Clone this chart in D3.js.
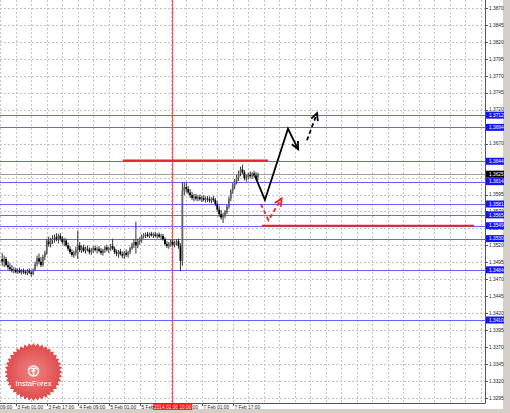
<!DOCTYPE html>
<html>
<head>
<meta charset="utf-8">
<script src="https://cdn.jsdelivr.net/npm/d3@7"></script>
<style>
html, body { margin: 0; padding: 0; background: #fff; }
svg { display: block; font-family: "Liberation Sans", Arial, sans-serif; }
</style>
</head>
<body>
<div id="chart"></div>
<script>
// EURUSD H1, first bar time
var startTime = "2014-02-02 18:00";

var opens = [
	1.3500,1.3496,1.3500,1.3491,1.3488,1.3485,1.3483,1.3484,1.3481,1.3483,
	1.3480,1.3482,1.3481,1.3479,1.3482,1.3480,1.3478,1.3484,1.3493,1.3501,
	1.3496,1.3491,1.3503,1.3509,1.3526,1.3522,1.3528,1.3530,1.3532,1.3529,
	1.3534,1.3530,1.3525,1.3527,1.3520,1.3515,1.3510,1.3506,1.3509,1.3514,
	1.3520,1.3513,1.3517,1.3512,1.3515,1.3514,1.3510,1.3513,1.3516,1.3513,
	1.3515,1.3512,1.3509,1.3513,1.3517,1.3514,1.3516,1.3519,1.3515,1.3510,
	1.3508,1.3511,1.3507,1.3505,1.3509,1.3506,1.3510,1.3516,1.3521,1.3525,
	1.3520,1.3526,1.3529,1.3533,1.3535,1.3536,1.3534,1.3537,1.3535,1.3536,
	1.3534,1.3536,1.3533,1.3534,1.3529,1.3522,1.3519,1.3522,1.3525,1.3521,
	1.3524,1.3526,1.3519,1.3497,1.3600,1.3606,1.3603,1.3598,1.3594,1.3590,
	1.3592,1.3589,1.3591,1.3588,1.3590,1.3587,1.3589,1.3588,1.3586,1.3589,
	1.3587,1.3581,1.3573,1.3566,1.3561,1.3564,1.3569,1.3577,1.3589,1.3600,
	1.3608,1.3614,1.3620,1.3626,1.3632,1.3628,1.3619,1.3621,1.3624,1.3622,
	1.3626,1.3623,1.3620
];
var highs = [
	1.3509,1.3505,1.3503,1.3497,1.3494,1.3491,1.3488,1.3487,1.3486,1.3487,
	1.3485,1.3486,1.3484,1.3485,1.3486,1.3483,1.3486,1.3496,1.3505,1.3508,
	1.3503,1.3506,1.3512,1.3530,1.3533,1.3531,1.3535,1.3536,1.3538,1.3537,
	1.3538,1.3534,1.3531,1.3530,1.3524,1.3519,1.3514,1.3512,1.3518,1.3542,
	1.3525,1.3520,1.3521,1.3518,1.3520,1.3517,1.3516,1.3519,1.3520,1.3518,
	1.3519,1.3516,1.3515,1.3519,1.3521,1.3518,1.3522,1.3530,1.3518,1.3514,
	1.3513,1.3515,1.3511,1.3512,1.3514,1.3512,1.3518,1.3524,1.3529,1.3555,
	1.3530,1.3532,1.3536,1.3538,1.3539,1.3540,1.3539,1.3540,1.3539,1.3540,
	1.3538,1.3539,1.3537,1.3537,1.3532,1.3526,1.3525,1.3528,1.3529,1.3527,
	1.3529,1.3530,1.3523,1.3613,1.3612,1.3613,1.3608,1.3603,1.3599,1.3596,
	1.3596,1.3594,1.3595,1.3593,1.3594,1.3592,1.3593,1.3592,1.3591,1.3593,
	1.3590,1.3585,1.3578,1.3572,1.3568,1.3572,1.3580,1.3592,1.3603,1.3612,
	1.3618,1.3624,1.3630,1.3636,1.3639,1.3631,1.3624,1.3627,1.3629,1.3628,
	1.3630,1.3628,1.3627
];
var lows = [
	1.3490,1.3488,1.3489,1.3484,1.3482,1.3480,1.3479,1.3479,1.3478,1.3479,
	1.3477,1.3478,1.3477,1.3476,1.3478,1.3474,1.3476,1.3482,1.3489,1.3492,
	1.3488,1.3489,1.3498,1.3506,1.3518,1.3517,1.3522,1.3524,1.3526,1.3523,
	1.3527,1.3522,1.3519,1.3518,1.3512,1.3507,1.3503,1.3502,1.3505,1.3500,
	1.3510,1.3509,1.3510,1.3508,1.3511,1.3507,1.3506,1.3509,1.3511,1.3508,
	1.3510,1.3506,1.3505,1.3509,1.3511,1.3509,1.3512,1.3513,1.3507,1.3504,
	1.3502,1.3505,1.3501,1.3500,1.3503,1.3502,1.3507,1.3513,1.3516,1.3508,
	1.3516,1.3521,1.3524,1.3530,1.3531,1.3532,1.3531,1.3533,1.3531,1.3532,
	1.3530,1.3531,1.3529,1.3527,1.3520,1.3516,1.3515,1.3518,1.3519,1.3517,
	1.3520,1.3515,1.3482,1.3490,1.3594,1.3598,1.3595,1.3590,1.3587,1.3585,
	1.3586,1.3585,1.3586,1.3584,1.3585,1.3583,1.3584,1.3583,1.3582,1.3584,
	1.3578,1.3570,1.3562,1.3558,1.3553,1.3560,1.3566,1.3574,1.3585,1.3596,
	1.3603,1.3610,1.3615,1.3622,1.3625,1.3616,1.3614,1.3617,1.3619,1.3618,
	1.3620,1.3617,1.3616
];
var closes = [
	1.3496,1.3500,1.3491,1.3488,1.3485,1.3483,1.3484,1.3481,1.3483,1.3480,
	1.3482,1.3481,1.3479,1.3482,1.3480,1.3478,1.3484,1.3493,1.3501,1.3496,
	1.3491,1.3503,1.3509,1.3526,1.3522,1.3528,1.3530,1.3532,1.3529,1.3534,
	1.3530,1.3525,1.3527,1.3520,1.3515,1.3510,1.3506,1.3509,1.3514,1.3520,
	1.3513,1.3517,1.3512,1.3515,1.3514,1.3510,1.3513,1.3516,1.3513,1.3515,
	1.3512,1.3509,1.3513,1.3517,1.3514,1.3516,1.3519,1.3515,1.3510,1.3508,
	1.3511,1.3507,1.3505,1.3509,1.3506,1.3510,1.3516,1.3521,1.3525,1.3520,
	1.3526,1.3529,1.3533,1.3535,1.3536,1.3534,1.3537,1.3535,1.3536,1.3534,
	1.3536,1.3533,1.3534,1.3529,1.3522,1.3519,1.3522,1.3525,1.3521,1.3524,
	1.3526,1.3519,1.3497,1.3600,1.3606,1.3603,1.3598,1.3594,1.3590,1.3592,
	1.3589,1.3591,1.3588,1.3590,1.3587,1.3589,1.3588,1.3586,1.3589,1.3587,
	1.3581,1.3573,1.3566,1.3561,1.3564,1.3569,1.3577,1.3589,1.3600,1.3608,
	1.3614,1.3620,1.3626,1.3632,1.3628,1.3619,1.3621,1.3624,1.3622,1.3626,
	1.3623,1.3620,1.3625
];

var priceTicks = [1.3870,1.3845,1.3820,1.3795,1.3770,1.3745,1.3720,1.3695,1.3670,1.3645,
	1.3620,1.3595,1.3570,1.3545,1.3520,1.3495,1.3470,1.3445,1.3420,1.3395,
	1.3370,1.3345,1.3320,1.3295];
var timeTicks = ["2014-02-02 09:00","2014-02-03 01:00","2014-02-03 17:00","2014-02-04 09:00",
	"2014-02-05 01:00","2014-02-05 17:00","2014-02-06 09:00","2014-02-07 01:00","2014-02-07 17:00"];

var levels = [1.3712, 1.3694, 1.3644, 1.3614, 1.3581, 1.3565, 1.3549, 1.3530, 1.3484, 1.3410];
var bidPrice = 1.3625;
var markerTime = "2014-02-06 10:00";

// analyst drawings, in [bar index, price]
var redLines = [
	{from: 62.3, to: 137.2, price: 1.3645},
	{from: 134, to: 243.5, price: 1.3549}
];
var forecastMain = [[130.5,1.3622],[135.6,1.3587],[147.5,1.3692],[152.7,1.3662]];
var forecastNext = [[157.3,1.3675],[162.5,1.3715]];
var forecastAlt = [[133.5,1.3581],[137.4,1.3557],[144.2,1.3589]];

var width = 510;
var height = 413;
var plotRight = 485;
var plotBottom = 403;
var barStep = 1.9375;

var parseTime = d3.timeParse("%Y-%m-%d %H:%M");
var t0 = parseTime(startTime);
function barOf(str){
	return (parseTime(str) - t0) / 3600000;
}

var x = d3.scaleLinear().domain([0, 1]).range([2.2, 2.2 + barStep]);
var y = d3.scaleLinear().domain([1.3295, 1.3870]).range([398, 8]);

var svg = d3.select('#chart')
	.append('svg')
	.attr('width', width)
	.attr('height', height);

// window chrome
svg.append('rect').attr('width', width).attr('height', height).attr('fill', '#fff');
svg.append('rect').attr('x', 503).attr('y', 0).attr('width', 7).attr('height', height).attr('fill', '#d4d0c8');
svg.append('rect').attr('x', 0).attr('y', 409).attr('width', width).attr('height', 4).attr('fill', '#d4d0c8');

svg.append('clipPath').attr('id', 'plotclip')
	.append('rect').attr('x', 0).attr('y', 0).attr('width', plotRight).attr('height', plotBottom);

var plot = svg.append('g').attr('clip-path', 'url(#plotclip)');

// grid
var gridBars = d3.range(-1, 250, 8);
plot.selectAll('.vgrid')
	.data(gridBars)
	.enter()
	.append('line')
	.attr('x1', function(d){ return Math.round(x(d)) + 0.5; })
	.attr('x2', function(d){ return Math.round(x(d)) + 0.5; })
	.attr('y1', 0).attr('y2', plotBottom)
	.attr('stroke', '#c4c4c4')
	.attr('stroke-dasharray', '2,2');

plot.selectAll('.hgrid')
	.data(priceTicks)
	.enter()
	.append('line')
	.attr('x1', 0).attr('x2', plotRight)
	.attr('y1', function(d){ return Math.round(y(d)) + 0.5; })
	.attr('y2', function(d){ return Math.round(y(d)) + 0.5; })
	.attr('stroke', '#c4c4c4')
	.attr('stroke-dasharray', '2,2');

// logo seal (under the price marks)
var logo = svg.append('g').attr('transform', 'translate(33.5,372)');
var grad = svg.append('defs').append('radialGradient').attr('id', 'sealgrad');
grad.append('stop').attr('offset', '0%').attr('stop-color', '#f07a7a');
grad.append('stop').attr('offset', '100%').attr('stop-color', '#dc3a3a');
var teeth = 40;
var sealPts = d3.range(teeth * 2).map(function(k){
	var r = (k % 2 === 0) ? 29 : 26;
	var a = Math.PI * k / teeth;
	return [r * Math.sin(a), -r * Math.cos(a)];
});
logo.append('path')
	.attr('d', 'M' + sealPts.join('L') + 'Z')
	.attr('fill', 'url(#sealgrad)')
	.attr('opacity', 0.92);
logo.append('circle').attr('cx', 0).attr('cy', -1).attr('r', 5).attr('fill', 'none').attr('stroke', '#fff').attr('stroke-width', 1.4);
logo.append('path')
	.attr('d', 'M-3,-3.5 L3,-3.5 M0,-3.5 L0,3 M-2,-1 L2,-1')
	.attr('stroke', '#fff').attr('stroke-width', 1.3).attr('fill', 'none');
logo.append('text')
	.attr('x', 0).attr('y', 14)
	.attr('text-anchor', 'middle')
	.attr('font-size', 7.6)
	.attr('fill', '#fff')
	.text('InstaForex');

// support / resistance levels
plot.selectAll('.level')
	.data(levels)
	.enter()
	.append('line')
	.attr('x1', 0).attr('x2', plotRight)
	.attr('y1', function(d){ return Math.round(y(d)) + 0.5; })
	.attr('y2', function(d){ return Math.round(y(d)) + 0.5; })
	.attr('stroke', '#6464ff')
	.attr('stroke-width', 1);

plot.append('line')
	.attr('x1', 0).attr('x2', plotRight)
	.attr('y1', Math.round(y(bidPrice)) + 0.5)
	.attr('y2', Math.round(y(bidPrice)) + 0.5)
	.attr('stroke', '#a0a0a0');

// event marker
var markerX = x(barOf(markerTime));
plot.append('line')
	.attr('x1', markerX).attr('x2', markerX)
	.attr('y1', 0).attr('y2', plotBottom)
	.attr('stroke', '#ff3030').attr('stroke-width', 1);

// candles
var bars = closes.map(function(c, i){
	return {i: i, o: opens[i], h: highs[i], l: lows[i], c: c};
});
plot.selectAll('.wick')
	.data(bars)
	.enter()
	.append('line')
	.attr('x1', function(d){ return x(d.i); })
	.attr('x2', function(d){ return x(d.i); })
	.attr('y1', function(d){ return y(d.h); })
	.attr('y2', function(d){ return y(d.l); })
	.attr('stroke', '#333')
	.attr('stroke-width', 1);
plot.selectAll('.body')
	.data(bars)
	.enter()
	.append('rect')
	.attr('x', function(d){ return x(d.i) - 0.9; })
	.attr('width', 1.8)
	.attr('y', function(d){ return y(Math.max(d.o, d.c)); })
	.attr('height', function(d){ return Math.max(0.8, Math.abs(y(d.o) - y(d.c))); })
	.attr('fill', function(d){ return d.c >= d.o ? '#666' : '#000'; });

// analyst red lines
plot.selectAll('.redline')
	.data(redLines)
	.enter()
	.append('line')
	.attr('x1', function(d){ return x(d.from); })
	.attr('x2', function(d){ return x(d.to); })
	.attr('y1', function(d){ return y(d.price); })
	.attr('y2', function(d){ return y(d.price); })
	.attr('stroke', '#ee2222')
	.attr('stroke-width', 2);

var line = d3.line()
	.x(function(d){ return x(d[0]); })
	.y(function(d){ return y(d[1]); });

function drawArrow(pts, color, dash){
	plot.append('path')
		.attr('d', line(pts))
		.attr('fill', 'none')
		.attr('stroke', color)
		.attr('stroke-width', 1.8)
		.attr('stroke-dasharray', dash)
		.attr('stroke-linejoin', 'miter');
	var a = pts[pts.length - 2], b = pts[pts.length - 1];
	var ax = x(a[0]), ay = y(a[1]), bx = x(b[0]), by = y(b[1]);
	var ang = Math.atan2(by - ay, bx - ax);
	var len = 8, spread = 0.45;
	var head = [
		[bx - len * Math.cos(ang - spread), by - len * Math.sin(ang - spread)],
		[bx, by],
		[bx - len * Math.cos(ang + spread), by - len * Math.sin(ang + spread)]
	];
	plot.append('path')
		.attr('d', 'M' + head.join('L'))
		.attr('fill', 'none')
		.attr('stroke', color)
		.attr('stroke-width', 1.8);
}
drawArrow(forecastMain, '#000', null);
drawArrow(forecastNext, '#000', '4,3');
drawArrow(forecastAlt, '#ee2222', '4,3');

// frame
svg.append('line').attr('x1', plotRight + 0.5).attr('x2', plotRight + 0.5).attr('y1', 0).attr('y2', plotBottom + 0.5)
	.attr('stroke', '#555');
svg.append('line').attr('x1', 0).attr('x2', plotRight + 0.5).attr('y1', plotBottom + 0.5).attr('y2', plotBottom + 0.5)
	.attr('stroke', '#555');

// right price axis
var yAxis = svg.append('g');
yAxis.selectAll('.ptick')
	.data(priceTicks)
	.enter()
	.append('line')
	.attr('x1', plotRight).attr('x2', plotRight + 3)
	.attr('y1', function(d){ return Math.round(y(d)) + 0.5; })
	.attr('y2', function(d){ return Math.round(y(d)) + 0.5; })
	.attr('stroke', '#555');
yAxis.selectAll('.plabel')
	.data(priceTicks)
	.enter()
	.append('text')
	.attr('x', 489)
	.attr('y', function(d){ return y(d) + 1.7; })
	.attr('font-size', 4.8)
	.attr('fill', '#222')
	.text(function(d){ return d.toFixed(4); });

var boxes = levels.map(function(p){ return {p: p, bg: '#1414ff'}; });
boxes.push({p: bidPrice, bg: '#000'});
var box = yAxis.selectAll('.box')
	.data(boxes)
	.enter()
	.append('g')
	.attr('transform', function(d){ return 'translate(486,' + y(d.p) + ')'; });
box.append('rect')
	.attr('x', 0).attr('y', -3.5)
	.attr('width', 18).attr('height', 7)
	.attr('fill', function(d){ return d.bg; });
box.append('text')
	.attr('x', 3).attr('y', 1.7)
	.attr('font-size', 4.8)
	.attr('fill', '#fff')
	.text(function(d){ return d.p.toFixed(4); });

// bottom time axis
var fmt = d3.timeFormat("%-d %b %H:%M");
var xAxis = svg.append('g');
var tickG = xAxis.selectAll('.ttick')
	.data(timeTicks)
	.enter()
	.append('g')
	.attr('transform', function(d){ return 'translate(' + (Math.round(x(barOf(d))) + 0.5) + ',' + plotBottom + ')'; });
tickG.append('line')
	.attr('y1', 0).attr('y2', 3)
	.attr('stroke', '#555');
tickG.append('text')
	.attr('x', 1).attr('y', 5.6)
	.attr('font-size', 4.8)
	.attr('fill', '#222')
	.text(function(d){ return fmt(parseTime(d)); });

var mk = xAxis.append('g').attr('transform', 'translate(' + markerX + ',' + plotBottom + ')');
mk.append('rect')
	.attr('x', -19.5).attr('y', 1.2)
	.attr('width', 39).attr('height', 5.6)
	.attr('fill', '#ff0000');
mk.append('text')
	.attr('x', 0).attr('y', 5.6)
	.attr('text-anchor', 'middle')
	.attr('font-size', 4.8)
	.attr('fill', '#fff')
	.text(d3.timeFormat("%Y.%m.%d %H:%M")(parseTime(markerTime)));
</script>
</body>
</html>
